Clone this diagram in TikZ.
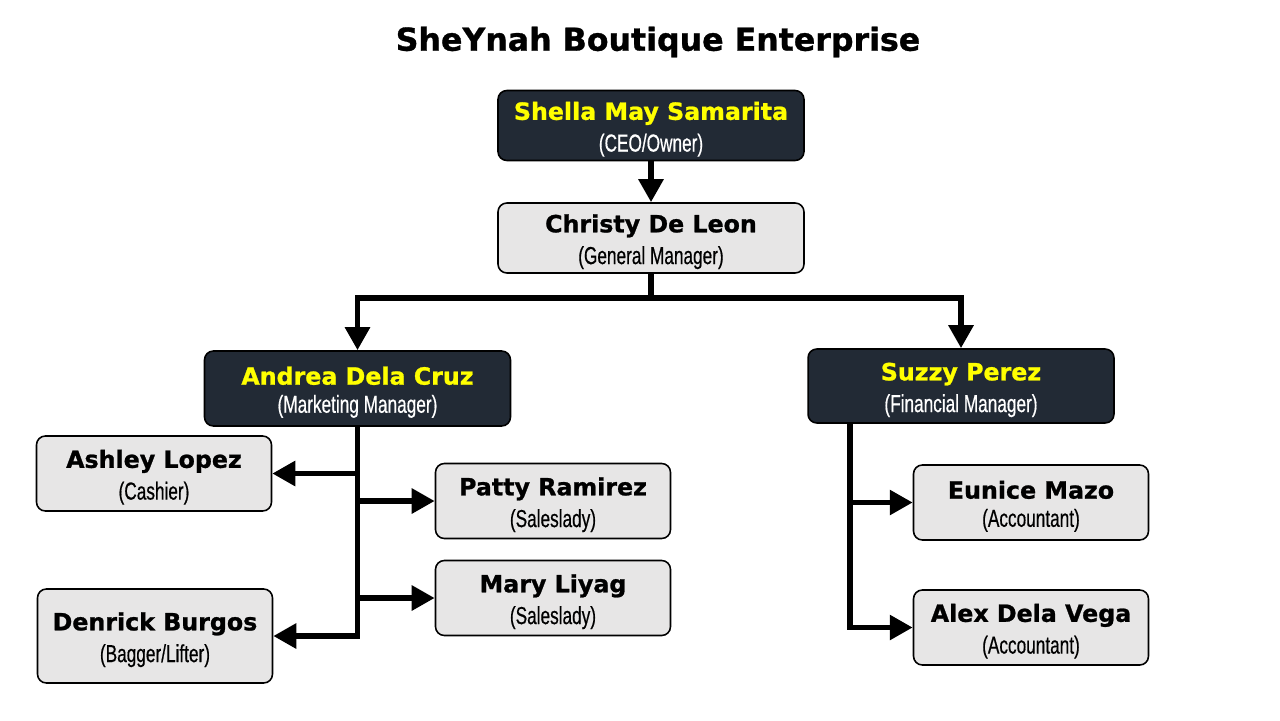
\documentclass[tikz,border=0pt]{standalone}
\usepackage{fontspec}
\usetikzlibrary{arrows.meta}
\setmainfont{Liberation Sans}
\newfontfamily\namefont{DejaVu Sans}[BoldFeatures={FakeBold=1}]
\newfontfamily\rolefont{Liberation Sans}[FakeStretch=0.70, FakeBold=0.5]
\definecolor{boxdark}{HTML}{222A35}
\definecolor{boxlight}{HTML}{E7E6E6}
\definecolor{nameyellow}{HTML}{FFFF00}

\tikzset{
  card/.style={draw=black, line width=0.9pt, rounded corners=5pt, align=center, inner sep=0pt},
  darkbox/.style={card, fill=boxdark, text=white},
  lightbox/.style={card, fill=boxlight, text=black},
  wide/.style={minimum width=6.12cm, minimum height=1.4cm},
  narrow/.style={minimum width=4.7cm, minimum height=1.5cm},
  link/.style={line width=3.4pt, draw=black},
  arrow/.style={link, -{Triangle[length=4.6mm, width=4.8mm]}}
}
\newcommand{\nm}[1]{{\namefont\bfseries\fontsize{13.5}{16}\selectfont\rule{0pt}{14.5pt}#1}}
\newcommand{\yn}[1]{{\namefont\bfseries\fontsize{13.5}{16}\selectfont\color{nameyellow}\rule{0pt}{14.5pt}#1}}
\newcommand{\rl}[1]{{\rolefont\fontsize{14}{16}\selectfont #1}}

\begin{document}
\begin{tikzpicture}[x=0.02cm, y=-0.02cm]
\useasboundingbox (0,0) rectangle (1280,720);
% Draw title
\node (title) at (658,42) {\namefont\bfseries\fontsize{18}{22}\selectfont SheYnah Boutique Enterprise};
% Draw boxes
\node[darkbox, wide] (ceo) at (651,125.5) {\yn{Shella May Samarita}\\[4pt]\rl{(CEO/Owner)}};
\node[lightbox, wide] (gm) at (651,238) {\nm{Christy De Leon}\\[4pt]\rl{(General Manager)}};
\node[darkbox, wide, minimum height=1.5cm] (mktg) at (357.5,388.5) {\yn{Andrea Dela Cruz}\\[4pt]\rl{(Marketing Manager)}};
\node[darkbox, wide, minimum height=1.48cm] (fin) at (961,386) {\yn{Suzzy Perez}\\[4pt]\rl{(Financial Manager)}};
\node[lightbox, narrow] (cashier) at (154,473.5) {\nm{Ashley Lopez}\\[4pt]\rl{(Cashier)}};
\node[lightbox, narrow] (sales1) at (553,501) {\nm{Patty Ramirez}\\[4pt]\rl{(Saleslady)}};
\node[lightbox, narrow] (sales2) at (553,598) {\nm{Mary Liyag}\\[4pt]\rl{(Saleslady)}};
\node[lightbox, narrow, minimum height=1.88cm] (bagger) at (155,636) {\nm{Denrick Burgos}\\[4pt]\rl{(Bagger/Lifter)}};
\node[lightbox, narrow] (acct1) at (1031,502.5) {\nm{Eunice Mazo}\\[4pt]\rl{(Accountant)}};
\node[lightbox, narrow] (acct2) at (1031,627.5) {\nm{Alex Dela Vega}\\[4pt]\rl{(Accountant)}};
% Draw connectors
\coordinate (gmbus) at (651,298);
\coordinate (fintrunk) at (850,423);
\draw[arrow] (ceo) -- (gm);
\draw[link] (gm) -- (gmbus);
\draw[arrow] (gmbus) -| (mktg.north);
\draw[arrow] (gmbus) -| (fin.north);
\draw[arrow] (mktg.south) |- (bagger.east);
\foreach \n in {cashier,sales1,sales2}
    \draw[arrow] (mktg.south |- \n.west) -- (\n);
\draw[arrow] (fintrunk) |- (acct2.west);
\draw[arrow] (fintrunk |- acct1.west) -- (acct1);
\end{tikzpicture}
\end{document}
